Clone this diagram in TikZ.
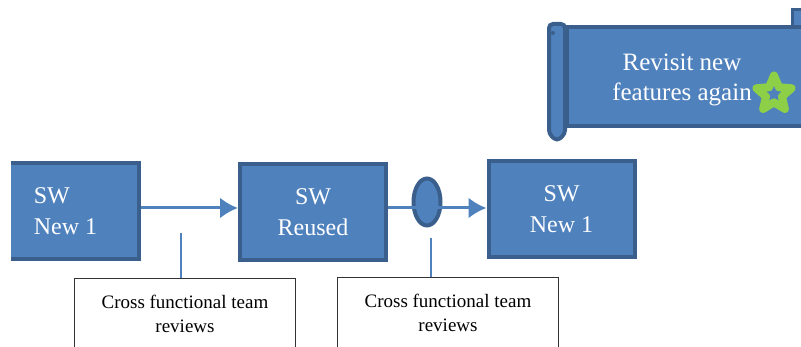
\documentclass[tikz,border=0pt]{standalone}
\usepackage{fontspec}
\setmainfont{Liberation Serif}
\usetikzlibrary{shapes.geometric,arrows.meta}
\definecolor{swfill}{HTML}{4F81BD}
\definecolor{swline}{HTML}{3A5F8C}
\definecolor{stargreen}{HTML}{8DCF47}
\begin{document}
\begin{tikzpicture}[x=1pt,y=-1pt,
  swbox/.style={rectangle, fill=swfill, draw=swline, line width=4pt, minimum width=146pt, minimum height=96pt, text=white, font=\fontsize{24}{31}\selectfont, align=center},
  review/.style={rectangle, draw=black!80, line width=0.8pt, fill=white, anchor=north, minimum width=221pt, inner ysep=17pt, font=\fontsize{19}{24}\selectfont, align=center},
  flow/.style={draw=swfill, line width=3pt, -{Latex[length=18pt,width=21pt]}},
  tick/.style={draw=swfill, line width=2pt}]
\useasboundingbox (0,0) rectangle (801,347);

% software blocks
\begin{scope}
\clip (11,0) rectangle (801,347);
\node[swbox, align=left] (new1) at (65.5,211) {SW\\New 1};
\end{scope}
\node[swbox] (reused) at (313,212) {SW\\Reused};
\node[swbox] (new2) at (561.5,209) {SW\\New 1};
\node[ellipse, fill=swfill, draw=swline, line width=4pt, minimum width=27pt, minimum height=47pt] (gate) at (427,202) {};

% scroll
\draw[fill=swfill, draw=swline, line width=3pt] (792,10) rectangle (812,27);
\draw[fill=swfill, draw=swline, line width=4pt] (567,27) rectangle (812,126);
\draw[fill=swfill, draw=swline, line width=4pt, rounded corners=4pt] (549,24) -- (549,134) -- (557,141) -- (565,134) -- (565,24) -- cycle;
\fill[swline] (553,33) circle (2);
\node[text=white, font=\fontsize{25}{30}\selectfont, align=center] (revisit) at (682,80) {Revisit new\\features again};
\node[star, star points=5, star point ratio=2.2, fill=swfill, draw=stargreen, line width=8pt, line join=round, minimum size=37pt, inner sep=0pt] (newstar) at (774,94) {};

% reviews
\node[review] (rev1) at (185,278) {Cross functional team\\reviews};
\node[review] (rev2) at (448,277) {Cross functional team\\reviews};
\coordinate (tick1) at (181,233);
\coordinate (tick2) at (431,238);

\draw[flow] ([yshift=3pt]new1.east) -- ([yshift=3pt]new1.east -| reused.west);
\draw[flow] ([yshift=4pt]reused.east) -- ([yshift=4pt]reused.east -| new2.west);
\draw[tick] (tick1) -- (tick1 |- rev1.north);
\draw[tick] (tick2) -- (tick2 |- rev2.north);
\end{tikzpicture}
\end{document}
